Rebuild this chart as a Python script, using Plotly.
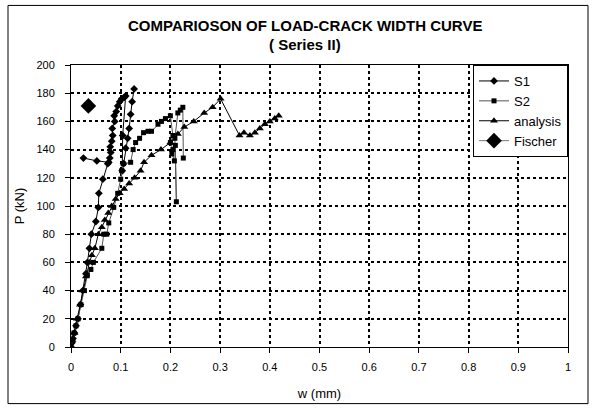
import plotly.graph_objects as go

# ---- data ----
s1_w = [0, 0.002, 0.004, 0.007, 0.01, 0.014, 0.019, 0.024, 0.03, 0.033, 0.037, 0.041, 0.05, 0.055,
        0.056, 0.064, 0.074, 0.078, 0.08, 0.079, 0.082, 0.084, 0.083, 0.088, 0.087, 0.091, 0.094,
        0.098, 0.102, 0.107, 0.11, 0.104, 0.103, 0.106, 0.11, 0.114, 0.117, 0.12, 0.123, 0.127,
        None, 0.076, 0.052, 0.025]
s1_p = [0, 3, 6, 10, 15, 20, 30, 40, 52, 60, 70, 80, 89, 99,
        109, 119, 130, 134, 138, 142, 146, 150, 155, 160, 164, 167, 171,
        174, 176, 177, 178, 150, 125, 130, 141, 148, 155, 165, 174, 183,
        None, 131, 132, 134]

s2_w = [0, 0.003, 0.006, 0.01, 0.014, 0.02, 0.027, 0.033, 0.04, 0.045, 0.062, 0.066, 0.072, 0.076,
        0.086, 0.094, 0.1, 0.102, 0.105, 0.12, 0.125, 0.13, 0.138, 0.146, 0.155, 0.162, 0.175,
        0.182, 0.19, 0.2, 0.205, 0.2, 0.205, 0.208, 0.203, 0.21, 0.212, 0.209, 0.215, 0.22, 0.225, 0.226]
s2_p = [0, 5, 10, 15, 20, 30, 40, 51, 55, 60, 70, 80, 80, 88,
        99, 109, 119, 125, 130, 131, 140, 145, 148, 152, 153, 153, 158,
        160, 162, 164, 150, 145, 140, 132, 137, 143, 103, 148, 166, 168, 170, 134]

an_w = [0, 0.003, 0.007, 0.012, 0.018, 0.024, 0.03, 0.037, 0.042, 0.048, 0.055, 0.062, 0.068, 0.075,
        0.082, 0.09, 0.098, 0.107, 0.117, 0.128, 0.14, 0.147, 0.162, 0.181, 0.2, 0.215, 0.228,
        0.247, 0.268, 0.285, 0.301, 0.339, 0.348, 0.36, 0.37, 0.38, 0.39, 0.40, 0.41, 0.418]
an_p = [0, 5, 10, 20, 30, 40, 50, 60, 65, 70, 80, 85, 90, 95,
        100, 105, 109, 112, 116, 120, 125, 131, 136, 140, 145, 151, 156,
        160, 166, 170, 176, 150, 152, 150, 152, 155, 158, 160, 162, 164]

fischer_w = [0.035]
fischer_p = [171]

x_ticks = [0, 0.1, 0.2, 0.3, 0.4, 0.5, 0.6, 0.7, 0.8, 0.9, 1]
y_ticks = [0, 20, 40, 60, 80, 100, 120, 140, 160, 180, 200]

title_line1 = "COMPARIOSON OF LOAD-CRACK WIDTH CURVE"
title_line2 = "( Series II)"

FONT = "Arial, Liberation Sans, sans-serif"

# plot area geometry (px) used for placing decorations
L, R, T, B = 71, 568, 65, 349
W, H = R - L, B - T

def px(xp):
    return (xp - L) / W

def py(yp):
    return (B - yp) / H

fig = go.Figure()
fig.add_trace(go.Scatter(x=s1_w, y=s1_p, name="S1", mode="lines+markers",
                         line=dict(color="black", width=1),
                         marker=dict(symbol="diamond", size=6, color="black"),
                         connectgaps=False))
fig.add_trace(go.Scatter(x=s2_w, y=s2_p, name="S2", mode="lines+markers",
                         line=dict(color="#555555", width=1),
                         marker=dict(symbol="square", size=5, color="black")))
fig.add_trace(go.Scatter(x=an_w, y=an_p, name="analysis", mode="lines+markers",
                         line=dict(color="black", width=1),
                         marker=dict(symbol="triangle-up", size=7, color="black")))
fig.add_trace(go.Scatter(x=fischer_w, y=fischer_p, name="Fischer", mode="lines+markers",
                         line=dict(color="#777777", width=1),
                         marker=dict(symbol="diamond", size=12, color="black")))

axis_common = dict(showline=True, linecolor="black", linewidth=1, mirror=True,
                   showgrid=True, gridcolor="black", gridwidth=1.5, griddash="3px,3px",
                   ticks="outside", ticklen=5, tickcolor="black", zeroline=False,
                   tickfont=dict(family=FONT, size=11, color="black"))

fig.update_layout(
    width=592, height=410,
    margin=dict(l=L, r=592 - R, t=T, b=410 - B),
    paper_bgcolor="white", plot_bgcolor="white",
    font=dict(family=FONT, color="black"),
    xaxis=dict(range=[0, 1], tickvals=x_ticks, ticklabelstandoff=5,
               title=dict(text="w (mm)", font=dict(family=FONT, size=13), standoff=16),
               **axis_common),
    yaxis=dict(range=[0, 200], tickvals=y_ticks, ticklabelstandoff=8,
               title=dict(text="P (kN)", font=dict(family=FONT, size=13), standoff=8),
               **axis_common),
    legend=dict(x=1, xanchor="right", y=1, yanchor="top",
                bgcolor="white", bordercolor="black", borderwidth=1,
                font=dict(family=FONT, size=13, color="black"),
                itemwidth=30, tracegroupgap=0),
    showlegend=True,
)

fig.add_annotation(text=title_line1, xref="paper", yref="paper", x=px(305), y=py(25),
                   xanchor="center", yanchor="middle", showarrow=False,
                   font=dict(family=FONT, size=15, color="black", weight="bold"))
fig.add_annotation(text=title_line2, xref="paper", yref="paper", x=px(305), y=py(44),
                   xanchor="center", yanchor="middle", showarrow=False,
                   font=dict(family=FONT, size=15, color="black", weight="bold"))

# outer chart frame
fig.add_shape(type="rect", xref="paper", yref="paper",
              x0=px(8), x1=px(588), y0=py(406), y1=py(5),
              line=dict(color="black", width=1), fillcolor="rgba(0,0,0,0)", layer="below")

fig.write_html("out.html")
